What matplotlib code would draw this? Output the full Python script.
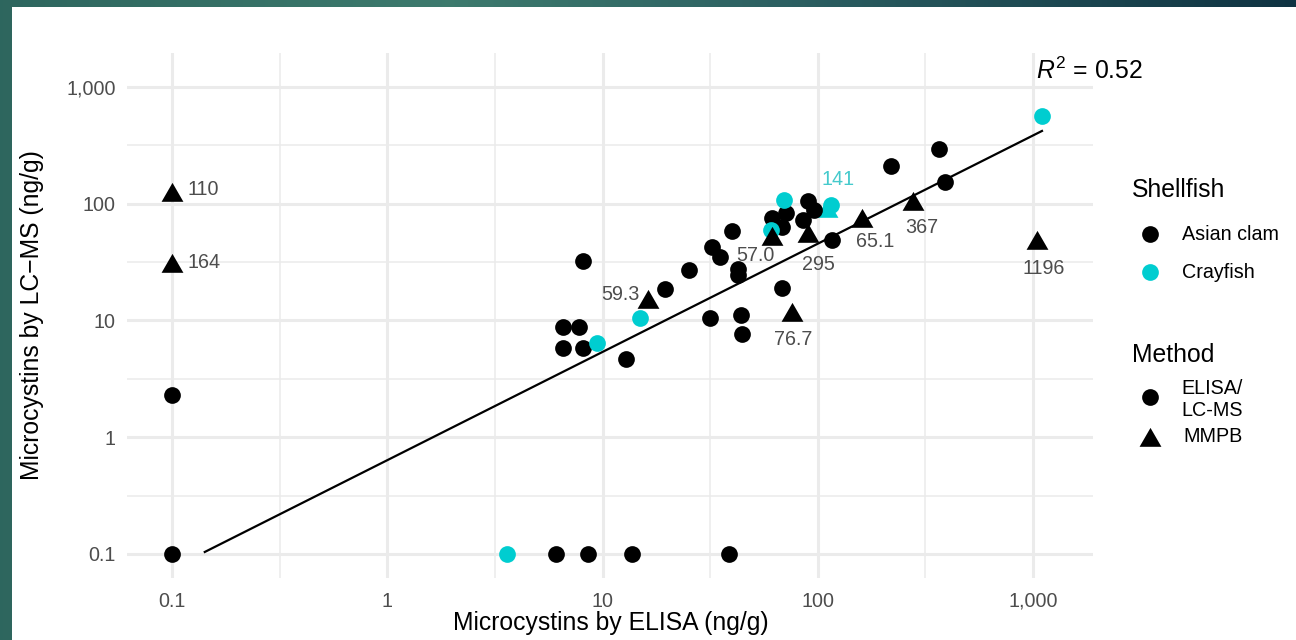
import numpy as np
import matplotlib
matplotlib.use("Agg")
import matplotlib.pyplot as plt
from matplotlib.path import Path
from matplotlib.lines import Line2D
from matplotlib.patches import Rectangle
from matplotlib.ticker import FixedLocator, FixedFormatter, NullFormatter

plt.rcParams['font.family'] = ['Liberation Sans', 'DejaVu Sans']
plt.rcParams['mathtext.fontset'] = 'custom'
plt.rcParams['mathtext.rm'] = 'Liberation Sans'
plt.rcParams['mathtext.it'] = 'Liberation Sans:italic'

# ---------------- data ----------------
clam_elisa_x = [0.1, 0.1, 6.06, 8.53, 13.65, 38.6, 8.08, 6.57, 7.74, 6.57, 8.13, 12.8,
                19.6, 25.2, 31.4, 32.1, 35.1, 40.0, 42.7, 42.7, 43.8, 44.6, 68.1,
                61.4, 70.8, 68.4, 90.2, 85.5, 96.2, 116.7, 217.8, 365, 389]
clam_elisa_y = [0.1, 2.3, 0.1, 0.1, 0.1, 0.1, 32.3, 8.75, 8.75, 5.85, 5.85, 4.68,
                18.6, 27.1, 10.57, 42.4, 35.2, 58.8, 27.5, 24.5, 11.1, 7.62, 19.1,
                75.0, 83.8, 63.6, 104.7, 72.7, 88.4, 49.0, 210, 292, 154.5]

cray_elisa_x = [3.61, 9.39, 14.9, 60.5, 69.6, 115, 1094]
cray_elisa_y = [0.1, 6.37, 10.44, 59.6, 107.7, 97.5, 565]

clam_mmpb_x = [0.1, 0.1, 16.3, 61.0, 89.7, 76.0, 159.6, 277, 1038]
clam_mmpb_y = [119, 29.5, 14.4, 49.5, 53, 11.1, 70.8, 98.7, 45.9]
clam_mmpb_labels = ["110", "164", "59.3", "57.0", "295", "76.7", "65.1", "367", "1196"]

cray_mmpb_x = [110.6]
cray_mmpb_y = [86.7]
cray_mmpb_labels = ["141"]

fit_x = [0.142, 1099]
fit_y = [0.104, 420]

r2_text = "0.52"

x_ticks = [0.1, 1, 10, 100, 1000]
x_tick_labels = ["0.1", "1", "10", "100", "1,000"]
y_ticks = [0.1, 1, 10, 100, 1000]
y_tick_labels = ["0.1", "1", "10", "100", "1,000"]
minor_ticks = [0.0316, 0.316, 3.16, 31.6, 316, 3162]

# ---------------- layout / style ----------------
W, H = 1296, 640
BLACK = "#000000"
CYAN = "#00CDD0"
LBL_GREY = "#4D4D4D"
LBL_CYAN = "#45CACC"
GRID = "#EBEBEB"
TICK_GREY = "#4D4D4D"

# label offsets in pixels (dx right, dy up) and horizontal alignment
clam_lbl_off = [(16, 5, 'left'), (16, 3, 'left'), (-9, 7, 'right'), (-16, -16, 'center'),
                (11, -29, 'center'), (1, -24, 'center'), (14, -20, 'center'),
                (9, -23, 'center'), (7, -25, 'center')]
cray_lbl_off = [(11, 31, 'center')]

tri = Path([(0, 1), (-0.866, -0.5), (0.866, -0.5), (0, 1)],
           [Path.MOVETO, Path.LINETO, Path.LINETO, Path.CLOSEPOLY])
CIRC_S = 145
TRI_S = 330

fig = plt.figure(figsize=(W / 100, H / 100), dpi=100)

# background gradient frame
bg = fig.add_axes([0, 0, 1, 1], zorder=-10)
bg.set_axis_off()
stops_x = [0, 450, 800, 1296]
stops_c = [(0.18, 0.40, 0.37), (0.24, 0.48, 0.43), (0.17, 0.37, 0.38), (0.06, 0.20, 0.26)]
xs = np.arange(W)
grad = np.zeros((1, W, 3))
for k in range(3):
    grad[0, :, k] = np.interp(xs, stops_x, [c[k] for c in stops_c])
bg.imshow(grad, extent=[0, W, 0, H], aspect='auto')
bg.add_patch(Rectangle((12, 0), W - 12, H - 7, facecolor='white', edgecolor='none'))
bg.set_xlim(0, W)
bg.set_ylim(0, H)

ax_l, ax_r, ax_t, ax_b = 127, 1093, 53, 578
ax = fig.add_axes([ax_l / W, 1 - ax_b / H, (ax_r - ax_l) / W, (ax_b - ax_t) / H])
ax.set_facecolor('white')
ax.set_xscale('log')
ax.set_yscale('log')
ax.set_xlim(10 ** -1.209, 10 ** 3.278)
ax.set_ylim(10 ** -1.206, 10 ** 3.291)
for s in ax.spines.values():
    s.set_visible(False)

ax.xaxis.set_major_locator(FixedLocator(x_ticks))
ax.xaxis.set_major_formatter(FixedFormatter(x_tick_labels))
ax.yaxis.set_major_locator(FixedLocator(y_ticks))
ax.yaxis.set_major_formatter(FixedFormatter(y_tick_labels))
ax.xaxis.set_minor_locator(FixedLocator(minor_ticks))
ax.yaxis.set_minor_locator(FixedLocator(minor_ticks))
ax.xaxis.set_minor_formatter(NullFormatter())
ax.yaxis.set_minor_formatter(NullFormatter())
ax.tick_params(which='both', length=0)
ax.tick_params(axis='x', which='major', labelsize=14.2, labelcolor=TICK_GREY, pad=10)
ax.tick_params(axis='y', which='major', labelsize=14.2, labelcolor=TICK_GREY, pad=8)
ax.grid(which='major', color=GRID, linewidth=2.2)
ax.grid(which='minor', color=GRID, linewidth=1.1)
ax.set_axisbelow(True)

# regression line
ax.plot(fit_x, fit_y, color='black', linewidth=1.6, zorder=2)

# points
ax.scatter(clam_elisa_x, clam_elisa_y, s=CIRC_S, color=BLACK, marker='o', linewidths=0, zorder=3)
ax.scatter(cray_elisa_x, cray_elisa_y, s=CIRC_S, color=CYAN, marker='o', linewidths=0, zorder=3)
ax.scatter(cray_mmpb_x, cray_mmpb_y, s=TRI_S, color=CYAN, marker=tri, linewidths=0, zorder=2.9)
ax.scatter(clam_mmpb_x, clam_mmpb_y, s=TRI_S, color=BLACK, marker=tri, linewidths=0, zorder=4)

# labels
for x, y, t, (dx, dy, ha) in zip(clam_mmpb_x, clam_mmpb_y, clam_mmpb_labels, clam_lbl_off):
    ax.annotate(t, (x, y), xytext=(dx * 0.72, dy * 0.72), textcoords='offset points',
                ha=ha, va='center', fontsize=14.2, color=LBL_GREY, zorder=5)
for x, y, t, (dx, dy, ha) in zip(cray_mmpb_x, cray_mmpb_y, cray_mmpb_labels, cray_lbl_off):
    ax.annotate(t, (x, y), xytext=(dx * 0.72, dy * 0.72), textcoords='offset points',
                ha=ha, va='center', fontsize=14.2, color=LBL_CYAN, zorder=5)

# R^2
fig.text(1036 / W, 1 - 79 / H, r'$R^2$ = ' + r2_text, ha='left', va='baseline',
         fontsize=17.8, color='black')

# axis titles
fig.text(611 / W, 1 - 623 / H, "Microcystins by ELISA (ng/g)", ha='center', va='center',
         fontsize=17.8, color='black')
fig.text(32 / W, 1 - 315.5 / H, "Microcystins by LC\u2212MS (ng/g)", ha='center', va='center',
         rotation=90, fontsize=17.8, color='black')

# legends (figure pixel coordinates)
def px(x, y):
    return x / W, 1 - y / H

def leg_marker(x, y, marker, color, s):
    fx, fy = px(x, y)
    ms = np.sqrt(s)
    fig.add_artist(Line2D([fx], [fy], marker=marker, markersize=ms, color=color,
                          markeredgewidth=0, linestyle='none', transform=fig.transFigure))

fig.text(*px(1132, 190), "Shellfish", ha='left', va='center', fontsize=17.8)
leg_marker(1150, 234, 'o', BLACK, CIRC_S)
fig.text(*px(1182, 234), "Asian clam", ha='left', va='center', fontsize=14.2)
leg_marker(1150, 272, 'o', CYAN, CIRC_S)
fig.text(*px(1182, 272), "Crayfish", ha='left', va='center', fontsize=14.2)

fig.text(*px(1132, 355), "Method", ha='left', va='center', fontsize=17.8)
leg_marker(1150, 397, 'o', BLACK, CIRC_S)
fig.text(*px(1181, 389), "ELISA/", ha='left', va='center', fontsize=14.2)
fig.text(*px(1181, 411), "LC-MS", ha='left', va='center', fontsize=14.2)
leg_marker(1150, 440, tri, BLACK, TRI_S)
fig.text(*px(1183, 437), "MMPB", ha='left', va='center', fontsize=14.2)

fig.savefig("out.png", dpi=100)
